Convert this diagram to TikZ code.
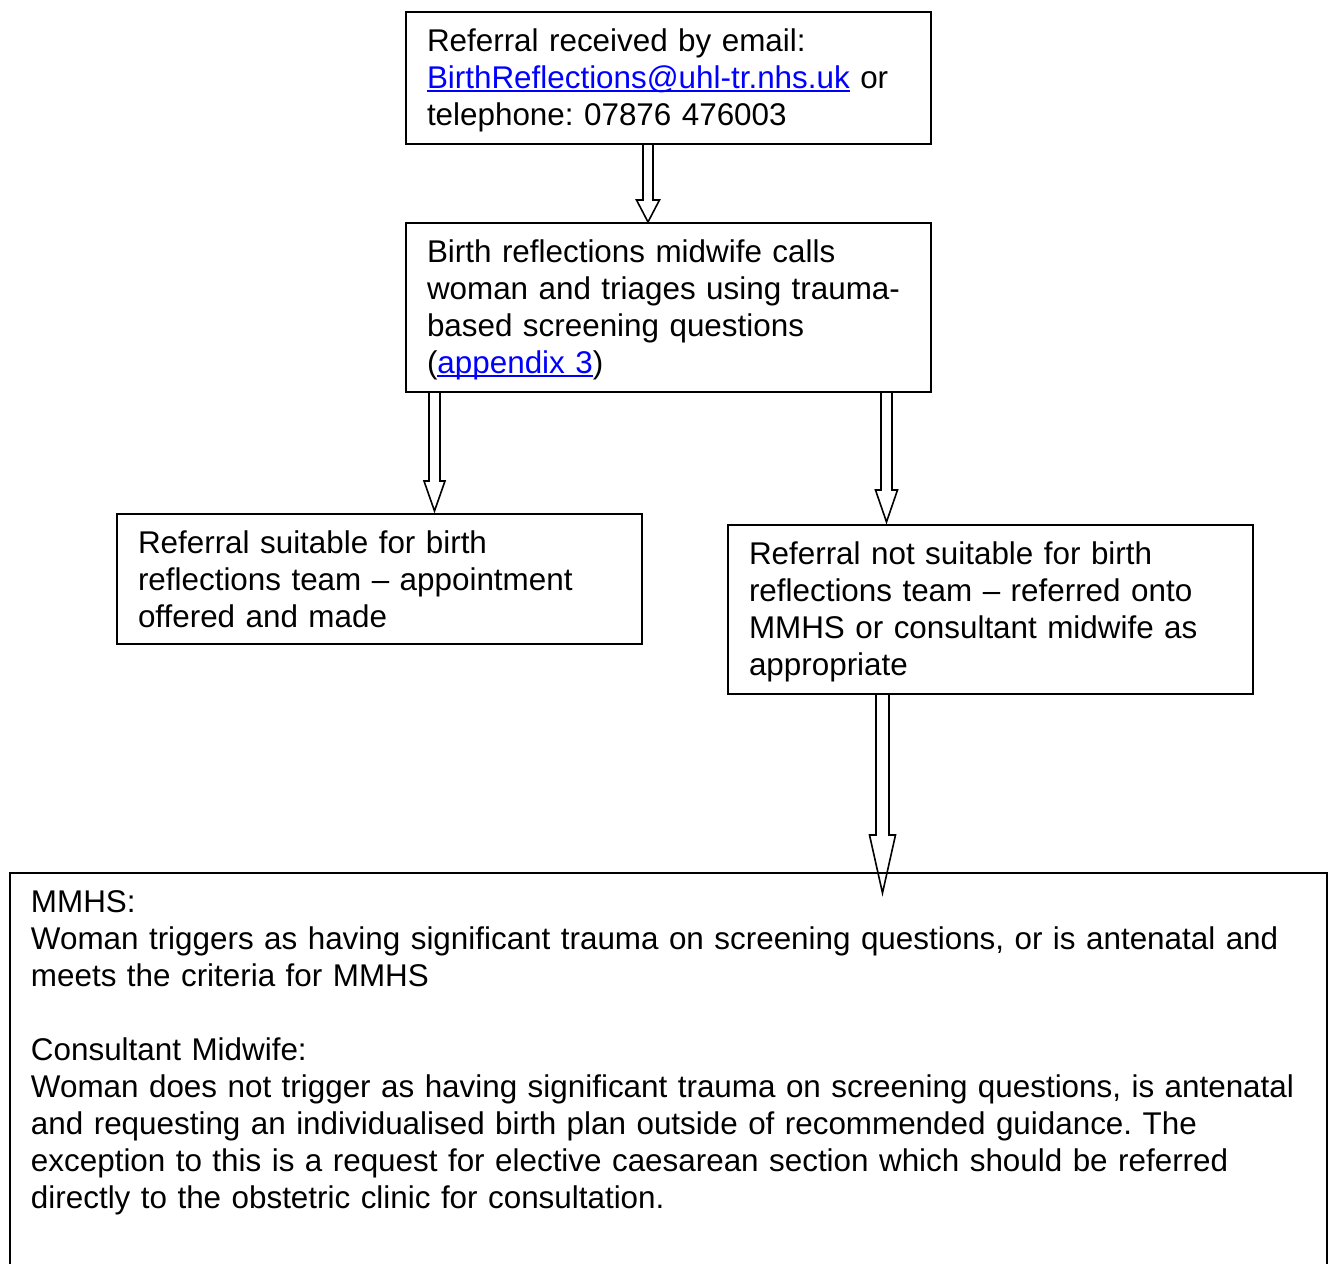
\documentclass[tikz,border=0pt]{standalone}
\usepackage{fontspec}
\setmainfont{Liberation Sans}
\usepackage{tikz}
\usetikzlibrary{calc}

\definecolor{linkblue}{RGB}{0,0,255}
\newcommand\weblink[1]{\leavevmode{\color{linkblue}\setbox0\hbox{#1}\rlap{\rule[-2.2pt]{\wd0}{1.2pt}}\box0}}

\tikzset{
	box/.style={draw, line width=1pt, anchor=north west, align=left, inner xsep=10.5pt, inner ysep=6pt, font=\fontsize{15.7pt}{18.5pt}\selectfont\frenchspacing, execute at begin node={\rule{0pt}{13.5pt}}, execute at end node={\rule[-2.5pt]{0pt}{0pt}}},
	hollow/.style={draw, line width=0.8pt, line join=miter}
}

\begin{document}
\begin{tikzpicture}[x=0.5pt,y=-0.5pt]

	\useasboundingbox (0,0) rectangle (1330,1264);
	\clip (0,0) rectangle (1330,1264);
	% Boxes %
	\node[box, text width=241.5pt] (referral) at (405,11) {Referral received by email:\\ \weblink{BirthReflections@uhl-tr.nhs.uk} or\\ telephone: 07876 476003};
	\node[box, text width=241.5pt] (triage) at (405,222) {Birth reflections midwife calls\\ woman and triages using trauma-\\ based screening questions\\ (\weblink{appendix 3})};
	\node[box, text width=241.5pt] (suitable) at (116,513) {Referral suitable for birth\\ reflections team -- appointment\\ offered and made};
	\node[box, text width=241.5pt] (unsuitable) at (727,524) {Referral not suitable for birth\\ reflections team -- referred onto\\ MMHS or consultant midwife as\\ appropriate};
	\node[box, text width=637.5pt] (outcome) at (9,872) {MMHS:\\ Woman triggers as having significant trauma on screening questions, or is antenatal and\\ meets the criteria for MMHS\\[18.5pt] Consultant Midwife:\\ Woman does not trigger as having significant trauma on screening questions, is antenatal\\ and requesting an individualised birth plan outside of recommended guidance. The\\ exception to this is a request for elective caesarean section which should be referred\\ directly to the obstetric clinic for consultation.\\[80pt]\mbox{}};
	% Arrows %
	\draw[hollow] let \p1=(648,0 |- referral.south), \p2=(648,0 |- triage.north) in (\x1-2.5pt,\y1) -- (\x1-2.5pt,\y2+11pt) -- (\x1-5.75pt,\y2+11pt) -- (\p2) -- (\x1+5.75pt,\y2+11pt) -- (\x1+2.5pt,\y2+11pt) -- (\x1+2.5pt,\y1);
	\draw[hollow] let \p1=(434.5,0 |- triage.south), \p2=(434.5,0 |- suitable.north) in (\x1-2.75pt,\y1) -- (\x1-2.75pt,\y2+16pt) -- (\x1-5.25pt,\y2+16pt) -- (\x1,\y2+1pt) -- (\x1+5.25pt,\y2+16pt) -- (\x1+2.75pt,\y2+16pt) -- (\x1+2.75pt,\y1);
	\draw[hollow] let \p1=(886.5,0 |- triage.south), \p2=(886.5,0 |- unsuitable.north) in (\x1-2.75pt,\y1) -- (\x1-2.75pt,\y2+17pt) -- (\x1-5.5pt,\y2+17pt) -- (\x1,\y2+1pt) -- (\x1+5.5pt,\y2+17pt) -- (\x1+2.75pt,\y2+17pt) -- (\x1+2.75pt,\y1);
	\draw[hollow] let \p1=(882.5,0 |- unsuitable.south), \p2=(882.5,0 |- outcome.north) in (\x1-3.25pt,\y1) -- (\x1-3.25pt,\y2+18.5pt) -- (\x1-6.5pt,\y2+18.5pt) -- (\x1,\y2-10.5pt) -- (\x1+6.5pt,\y2+18.5pt) -- (\x1+3.25pt,\y2+18.5pt) -- (\x1+3.25pt,\y1);
\end{tikzpicture}
\end{document}
